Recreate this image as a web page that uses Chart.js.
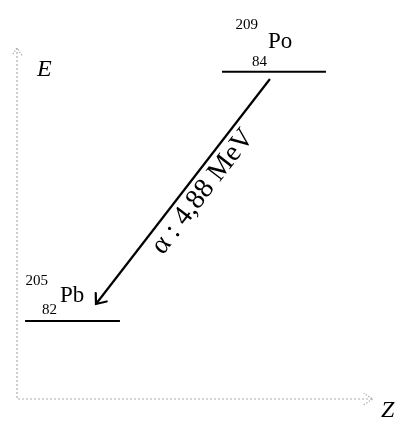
<!DOCTYPE html>
<html>
<head>
<meta charset="utf-8">
<script src="https://cdn.jsdelivr.net/npm/chart.js@4.4.1/dist/chart.umd.min.js"></script>
<style>
  html, body { margin: 0; padding: 0; background: #fff; }
  #wrap { width: 397px; height: 421px; }
</style>
</head>
<body>
<div id="wrap"><canvas id="grafico" width="397" height="421"></canvas></div>
<script>
// Niveles de energía: Pb-205 (fundamental) y Po-209
const nucleos = ['Pb', 'Po'];
const numeroMasico = ['205', '209'];
const numeroAtomico = ['82', '84'];
const nivelZDesde = [81.529, 83.484];
const nivelZHasta = [82.471, 84.516];
const nivelE = [0, 4.88];          // MeV

// Desintegración alfa (flecha de Po a Pb)
const decaidaDesde = [83.960, 4.737];
const decaidaHasta = [82.233, 0.333];
const decaidaTexto = 'α : 4,88 MeV';

// Rango de los ejes
const rangoZ = [81.449, 84.983];
const rangoE = [-1.527, 5.344];
const tituloEjes = ['Z', 'E'];

const SERIF = '"Liberation Serif", "DejaVu Serif", serif';

// desplazamientos de las etiquetas respecto del inicio de cada nivel (px)
const posEtiqueta = [
    { dx: 35, dy: -19, masa: [-12, -17], atom: [-3, 12] },
    { dx: 46, dy: -24, masa: [-10, -19], atom: [-1, 18] }
];

function flecha(ctx, x, y, ang, largo, abertura) {
    ctx.beginPath();
    ctx.moveTo(x - largo * Math.cos(ang - abertura), y - largo * Math.sin(ang - abertura));
    ctx.lineTo(x, y);
    ctx.lineTo(x - largo * Math.cos(ang + abertura), y - largo * Math.sin(ang + abertura));
    ctx.stroke();
}

const dibujoExtra = {
    id: 'dibujoExtra',
    afterDatasetsDraw(chart) {
        const ctx = chart.ctx;
        const a = chart.chartArea;
        const sx = chart.scales.x, sy = chart.scales.y;
        ctx.save();

        // ejes punteados con flecha
        ctx.strokeStyle = '#adadad';
        ctx.lineWidth = 1.2;
        ctx.setLineDash([2, 2]);
        ctx.beginPath();
        ctx.moveTo(a.left, a.top);
        ctx.lineTo(a.left, a.bottom);
        ctx.lineTo(a.right, a.bottom);
        ctx.stroke();
        ctx.setLineDash([1.5, 1.5]);
        flecha(ctx, a.left, a.top, -Math.PI / 2, 9, 0.6);
        flecha(ctx, a.right, a.bottom, 0, 11, 0.55);
        ctx.setLineDash([]);

        ctx.fillStyle = '#000';
        ctx.font = 'italic 24px ' + SERIF;
        ctx.textBaseline = 'alphabetic';
        ctx.textAlign = 'left';
        ctx.fillText(tituloEjes[1], a.left + 20, a.top + 28);
        ctx.fillText(tituloEjes[0], a.right + 8, a.bottom + 18);

        // etiquetas de los núcleos
        nucleos.forEach((sim, i) => {
            const p = posEtiqueta[i];
            const L = sx.getPixelForValue(nivelZDesde[i]);
            const Y = sy.getPixelForValue(nivelE[i]);
            const xs = L + p.dx, ys = Y + p.dy;
            ctx.font = '23px ' + SERIF;
            ctx.textAlign = 'left';
            ctx.fillText(sim, xs, ys);
            ctx.font = '15px ' + SERIF;
            ctx.textAlign = 'right';
            ctx.fillText(numeroMasico[i], xs + p.masa[0], ys + p.masa[1]);
            ctx.fillText(numeroAtomico[i], xs + p.atom[0], ys + p.atom[1]);
        });

        // punta de la flecha de desintegración y su texto
        const x0 = sx.getPixelForValue(decaidaDesde[0]), y0 = sy.getPixelForValue(decaidaDesde[1]);
        const x1 = sx.getPixelForValue(decaidaHasta[0]), y1 = sy.getPixelForValue(decaidaHasta[1]);
        const ang = Math.atan2(y1 - y0, x1 - x0);
        ctx.strokeStyle = '#000';
        ctx.lineWidth = 2.2;
        ctx.lineCap = 'round';
        flecha(ctx, x1, y1, ang, 11, 0.68);

        const rot = Math.atan2(y0 - y1, x0 - x1);
        const vx = Math.cos(rot), vy = Math.sin(rot);
        const cx = (x0 + x1) / 2 + 12 * vx - 16 * vy;
        const cy = (y0 + y1) / 2 + 12 * vy + 16 * vx;
        ctx.translate(cx, cy);
        ctx.rotate(rot);
        ctx.font = '28px ' + SERIF;
        ctx.textAlign = 'center';
        ctx.textBaseline = 'middle';
        ctx.fillText(decaidaTexto, 0, 0);
        ctx.restore();
    }
};

const conjuntos = nucleos.map((sim, i) => ({
    label: sim,
    data: [{ x: nivelZDesde[i], y: nivelE[i] }, { x: nivelZHasta[i], y: nivelE[i] }],
    showLine: true,
    borderColor: '#000',
    borderWidth: 2,
    pointRadius: 0
}));
conjuntos.push({
    label: decaidaTexto,
    data: [{ x: decaidaDesde[0], y: decaidaDesde[1] }, { x: decaidaHasta[0], y: decaidaHasta[1] }],
    showLine: true,
    borderColor: '#000',
    borderWidth: 2.2,
    pointRadius: 0
});

new Chart(document.getElementById('grafico').getContext('2d'), {
    type: 'scatter',
    data: { datasets: conjuntos },
    options: {
        responsive: false,
        animation: false,
        devicePixelRatio: 1,
        layout: { padding: { left: 17, top: 48, right: 24, bottom: 22 } },
        plugins: { legend: { display: false }, tooltip: { enabled: false } },
        scales: {
            x: { type: 'linear', display: false, min: rangoZ[0], max: rangoZ[1] },
            y: { type: 'linear', display: false, min: rangoE[0], max: rangoE[1] }
        }
    },
    plugins: [dibujoExtra]
});
</script>
</body>
</html>
